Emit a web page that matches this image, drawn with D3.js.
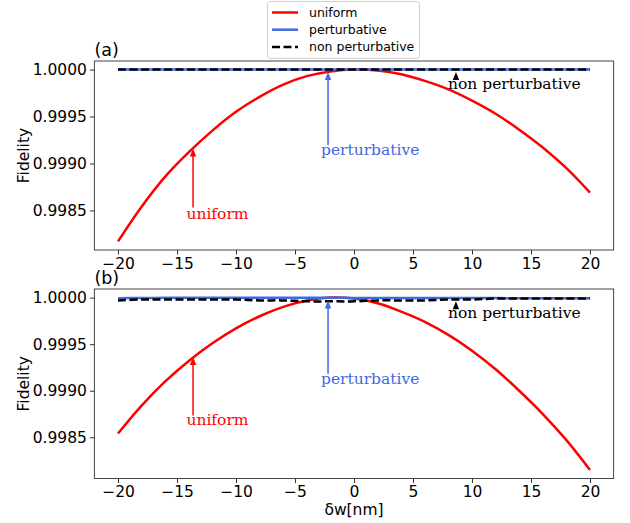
<!DOCTYPE html>
<html>
<head>
<meta charset="utf-8">
<script src="https://cdn.jsdelivr.net/npm/d3@7"></script>
<style>
  html, body { margin: 0; padding: 0; background: #fff; }
  svg { display: block; }
</style>
</head>
<body>
<svg id="chart" width="630" height="523"></svg>
<script>
// Detuning grid (nm)
const detuning = [-20, -18, -16, -14, -12, -10, -8, -6, -4, -2, 0, 2, 4, 6, 8, 10, 12, 14, 16, 18, 20];

// Panel (a) fidelities
const uniformA = [0.99817, 0.99854, 0.99886, 0.99912, 0.99935, 0.99955, 0.99971, 0.99984, 0.99993, 0.99998, 1.00000,
                  0.99999, 0.99995, 0.99988, 0.99979, 0.99967, 0.99953, 0.99936, 0.99917, 0.99895, 0.99869];
const perturbativeA = [1.0, 1.0, 1.0, 1.0, 1.0, 1.0, 1.0, 1.0, 1.0, 1.0, 1.0, 1.0, 1.0, 1.0, 1.0, 1.0, 1.0, 1.0, 1.0, 1.0, 1.0];
const nonPerturbativeA = [1.0, 1.0, 1.0, 1.0, 1.0, 1.0, 1.0, 1.0, 1.0, 1.0, 1.0, 1.0, 1.0, 1.0, 1.0, 1.0, 1.0, 1.0, 1.0, 1.0, 1.0];

// Panel (b) fidelities
const uniformB = [0.99854, 0.99884, 0.99910, 0.99932, 0.99951, 0.99967, 0.99980, 0.99990, 0.99997, 1.00000, 0.99999,
                  0.99994, 0.99985, 0.99974, 0.99960, 0.99943, 0.99923, 0.99900, 0.99875, 0.99847, 0.99815];
const perturbativeB = [0.999994, 0.999996, 0.999998, 0.999999, 0.999999, 0.999999, 0.999999, 0.999999, 0.999998, 0.999998, 0.999997,
                       0.999997, 0.999996, 0.999996, 0.999995, 0.999995, 0.999995, 0.999994, 0.999994, 0.999993, 0.999993];
const nonPerturbativeB = [0.99997, 0.99998, 0.99998, 0.99998, 0.99998, 0.99998, 0.99997, 0.99997, 0.99996, 0.99996, 0.99996,
                          0.99997, 0.99997, 0.99997, 0.99998, 0.99998, 0.99999, 0.99999, 0.99999, 0.99999, 0.99999];

const xTicks = [-20, -15, -10, -5, 0, 5, 10, 15, 20];
const yTicks = [0.9985, 0.9990, 0.9995, 1.0000];
const seriesNames = ["uniform", "perturbative", "non perturbative"];

const colors = { uniform: "#ff0000", perturbative: "#4169e1", "non perturbative": "#000000" };

const svg = d3.select("#chart");
const sans = "'DejaVu Sans', sans-serif";
const serif = "'DejaVu Serif', serif";

const left = 94.4, right = 613.6;
const x = d3.scaleLinear().domain([-22, 22]).range([left, right]);

const panels = [
  { tag: "(a)", top: 61, bottom: 250,
    series: [uniformA, perturbativeA, nonPerturbativeA],
    notes: [
      { name: "uniform", ax: -13.64, tip: 0.99916, tail: 0.998531, tx: -14.2, ty: 0.998411 },
      { name: "perturbative", ax: -2.2, tip: 0.999975, tail: 0.999198, tx: -2.8, ty: 0.999092 },
      { name: "non perturbative", ax: 8.64, tip: 0.999975, tail: 0.999908, tx: 7.97, ty: 0.999788 }
    ] },
  { tag: "(b)", top: 289, bottom: 478.5,
    series: [uniformB, perturbativeB, nonPerturbativeB],
    notes: [
      { name: "uniform", ax: -13.64, tip: 0.999361, tail: 0.998735, tx: -14.2, ty: 0.998628 },
      { name: "perturbative", ax: -2.2, tip: 0.999968, tail: 0.999182, tx: -2.8, ty: 0.999075 },
      { name: "non perturbative", ax: 8.64, tip: 0.999961, tail: 0.999879, tx: 7.97, ty: 0.999779 }
    ] }
];

panels.forEach(p => {
  const all = p.series.flat();
  const lo = d3.min(all), hi = d3.max(all);
  const pad = (hi - lo) * 0.05;
  const y = d3.scaleLinear().domain([lo - pad, hi + pad]).range([p.bottom, p.top]);

  const g = svg.append("g");

  // clip to the axes box
  const clipId = "clip" + p.tag.replace(/\W/g, "");
  svg.append("clipPath").attr("id", clipId)
    .append("rect").attr("x", left).attr("y", p.top).attr("width", right - left).attr("height", p.bottom - p.top);

  const line = d3.line().x((d, i) => x(detuning[i])).y(d => y(d)).curve(d3.curveCatmullRom.alpha(0.5));
  const plot = g.append("g").attr("clip-path", `url(#${clipId})`);

  p.series.forEach((vals, k) => {
    const name = seriesNames[k];
    plot.append("path")
      .attr("d", line(vals))
      .attr("fill", "none")
      .attr("stroke", colors[name])
      .attr("stroke-width", 2.5)
      .attr("stroke-dasharray", name === "non perturbative" ? "8,3.5" : null);
  });

  // annotations with arrows
  p.notes.forEach(n => {
    const c = colors[n.name];
    const ax = x(n.ax), tipY = y(n.tip), tailY = y(n.tail);
    const head = 8, hw = 3.2;
    g.append("line")
      .attr("x1", ax).attr("x2", ax).attr("y1", tailY).attr("y2", tipY + head - 1)
      .attr("stroke", c).attr("stroke-width", 1.5);
    g.append("path")
      .attr("d", `M${ax},${tipY} L${ax - hw},${tipY + head} L${ax + hw},${tipY + head} Z`)
      .attr("fill", c);
    g.append("text")
      .attr("x", x(n.tx)).attr("y", y(n.ty))
      .attr("fill", c)
      .attr("font-family", serif).attr("font-size", 15.5)
      .text(n.name);
  });

  // axes
  const xAxis = d3.axisBottom(x).tickValues(xTicks).tickSize(4.5).tickPadding(3)
    .tickFormat(d => d < 0 ? "\u2212" + Math.abs(d) : String(d));
  const yAxis = d3.axisLeft(y).tickValues(yTicks).tickSize(4.5).tickPadding(3)
    .tickFormat(d3.format(".4f"));

  const gx = g.append("g").attr("transform", `translate(0,${p.bottom})`).call(xAxis);
  const gy = g.append("g").attr("transform", `translate(${left},0)`).call(yAxis);
  [gx, gy].forEach(a => {
    a.select(".domain").remove();
    a.selectAll(".tick line").attr("stroke", "#333").attr("stroke-width", 1);
    a.selectAll(".tick text").attr("font-family", sans).attr("font-size", 15.5).attr("fill", "#000");
  });

  // frame
  g.append("rect")
    .attr("x", left).attr("y", p.top).attr("width", right - left).attr("height", p.bottom - p.top)
    .attr("fill", "none").attr("stroke", "#444").attr("stroke-width", 1);

  // panel tag
  g.append("text")
    .attr("x", left).attr("y", p.top - 5)
    .attr("font-family", sans).attr("font-size", 17.5).attr("fill", "#000")
    .text(p.tag);

  // y label
  g.append("text")
    .attr("transform", `translate(29,${(p.top + p.bottom) / 2}) rotate(-90)`)
    .attr("text-anchor", "middle")
    .attr("font-family", sans).attr("font-size", 15.5).attr("fill", "#000")
    .text("Fidelity");
});

// x label
svg.append("text")
  .attr("x", (left + right) / 2).attr("y", 515)
  .attr("text-anchor", "middle")
  .attr("font-family", sans).attr("font-size", 15.5).attr("fill", "#000")
  .text("δw[nm]");

// legend
const leg = svg.append("g");
leg.append("rect")
  .attr("x", 267.5).attr("y", 1.5).attr("width", 152).attr("height", 57).attr("rx", 3)
  .attr("fill", "#fff").attr("fill-opacity", 0.85)
  .attr("stroke", "#d0d0d0").attr("stroke-width", 1);
seriesNames.forEach((name, i) => {
  const cy = 12.5 + i * 17.2;
  leg.append("line")
    .attr("x1", 272).attr("x2", 298).attr("y1", cy).attr("y2", cy)
    .attr("stroke", colors[name]).attr("stroke-width", 2.5)
    .attr("stroke-dasharray", name === "non perturbative" ? "8,3.5" : null);
  leg.append("text")
    .attr("x", 309).attr("y", cy).attr("dy", "0.35em")
    .attr("font-family", sans).attr("font-size", 12.5).attr("fill", "#000")
    .text(name);
});
</script>
</body>
</html>
